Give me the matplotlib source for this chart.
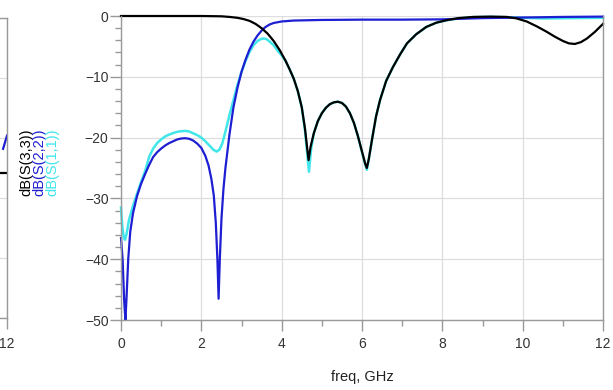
import numpy as np
import matplotlib.pyplot as plt
from matplotlib.ticker import MultipleLocator

plt.rcParams['font.family'] = ['Liberation Sans', 'DejaVu Sans']

# ---- data (freq in GHz, level in dB) ----
s33_f = [0, 1.0, 2.0, 2.5, 2.7, 2.9, 3.05, 3.2, 3.35, 3.5, 3.65, 3.8, 3.95, 4.1, 4.2,
         4.3, 4.4, 4.5, 4.58, 4.64, 4.67, 4.72, 4.8, 4.9, 5.0, 5.1, 5.2, 5.3, 5.4, 5.5,
         5.6, 5.7, 5.8, 5.9, 6.0, 6.08, 6.12, 6.17, 6.25, 6.35, 6.45, 6.6, 6.77, 6.95,
         7.12, 7.35, 7.6, 7.85, 8.1, 8.4, 8.77, 9.2, 9.6, 9.85, 10.1, 10.35, 10.6, 10.8,
         11.0, 11.15, 11.3, 11.45, 11.6, 11.8, 12.0]
s33_db = [0, 0, 0, -0.05, -0.15, -0.3, -0.5, -0.8, -1.3, -2.0, -2.9, -4.1, -5.6, -7.4, -8.8,
          -10.3, -12.3, -15, -18.5, -22, -23.7, -21.5, -19.3, -17.3, -16, -15.1, -14.5,
          -14.2, -14.1, -14.3, -14.9, -16, -17.6, -19.8, -22.3, -24.3, -25, -23.5, -20.3,
          -16.5, -13.8, -10.7, -8.4, -6.3, -4.5, -3.0, -1.8, -1.1, -0.7, -0.35, -0.15,
          -0.1, -0.15, -0.4, -0.9, -1.7, -2.6, -3.4, -4.1, -4.5, -4.6, -4.3, -3.7, -2.6, -1.3]

s22_f = [0, 0.04, 0.08, 0.11, 0.14, 0.18, 0.23, 0.3, 0.4, 0.5, 0.6, 0.7, 0.8, 0.9, 1.0,
         1.1, 1.2, 1.3, 1.4, 1.5, 1.6, 1.7, 1.8, 1.9, 2.0, 2.1, 2.18, 2.25, 2.31, 2.36,
         2.4, 2.43, 2.46, 2.5, 2.55, 2.6, 2.7, 2.8, 2.9, 3.0, 3.1, 3.2, 3.3, 3.4, 3.5,
         3.6, 3.7, 3.8, 4.0, 4.3, 5.0, 6.0, 7.0, 8.0, 9.0, 10.0, 11.0, 12.0]
s22_db = [-36.5, -40, -47, -50, -46, -40, -35.5, -32.4, -29.6, -27.6, -26, -24.5, -23.2,
          -22.4, -21.8, -21.3, -20.9, -20.6, -20.3, -20.15, -20.1, -20.2, -20.5, -21,
          -21.7, -23, -24.6, -26.8, -29.5, -34, -40, -46.5, -40, -33.5, -28.5, -25,
          -19.5, -15, -11.8, -9.2, -7.2, -5.5, -4.2, -3.2, -2.4, -1.8, -1.4, -1.15, -0.9,
          -0.75, -0.65, -0.6, -0.6, -0.55, -0.35, -0.25, -0.15, -0.1]

s11_f = [0, 0.03, 0.07, 0.1, 0.14, 0.2, 0.3, 0.4, 0.5, 0.6, 0.7, 0.8, 0.9, 1.0, 1.1,
         1.2, 1.3, 1.4, 1.5, 1.6, 1.7, 1.8, 1.9, 2.0, 2.1, 2.2, 2.3, 2.38, 2.45, 2.52,
         2.6, 2.7, 2.8, 2.9, 3.0, 3.1, 3.2, 3.3, 3.4, 3.5, 3.55, 3.62, 3.7, 3.8, 3.9,
         4.0, 4.1, 4.2, 4.3, 4.4, 4.5, 4.58, 4.64, 4.68, 4.73, 4.8, 4.9, 5.0, 5.1, 5.2,
         5.3, 5.4, 5.5, 5.6, 5.7, 5.8, 5.9, 6.0, 6.08, 6.12, 6.17, 6.25, 6.35, 6.45, 6.6,
         6.77, 6.95, 7.12, 7.35, 7.6, 7.85, 8.1, 8.4, 8.77, 9.2, 9.6, 10.5, 12.0]
s11_db = [-31.5, -34.5, -36.5, -36.8, -35.8, -33.5, -31.2, -29.2, -27.3, -25.5, -23.2,
          -21.8, -20.9, -20.3, -19.8, -19.5, -19.25, -19.05, -18.95, -18.9, -19.0, -19.3,
          -19.6, -20.0, -20.6, -21.3, -22.0, -22.3, -22.0, -21.0, -19.0, -16.3, -13.8,
          -11.3, -9.2, -7.4, -5.9, -4.8, -4.1, -3.75, -3.7, -3.8, -4.2, -4.8, -5.7, -6.5,
          -7.4, -8.8, -10.3, -12.3, -15, -18.8, -23, -25.6, -22, -19.3, -17.3, -16, -15.1,
          -14.5, -14.2, -14.1, -14.3, -14.9, -16, -17.6, -19.8, -22.4, -24.4, -25.3, -23.5,
          -20.3, -16.5, -13.8, -10.7, -8.4, -6.3, -4.5, -3.0, -1.8, -1.1, -0.7, -0.4,
          -0.2, -0.15, -0.2, -0.4, -0.3]

# right edge of the neighbouring plot that is cut off on the left
left_blk_f = [11.5, 12.0]
left_blk_db = [-25.8, -25.8]
left_blu_f = [11.85, 12.0]
left_blu_db = [-21.8, -19.6]

legend_labels = ['dB(S(3,3))', 'dB(S(2,2))', 'dB(S(1,1))']

c_blk = '#000000'
c_blu = '#1e1ed2'
c_cya = '#40e6ea'
grid_c = '#dddddd'
spine_c = '#999999'

fig = plt.figure(figsize=(6.13, 3.9), dpi=100)


def style(ax):
    ax.set_xlim(0, 12)
    ax.set_ylim(-50, 0)
    ax.xaxis.set_major_locator(MultipleLocator(2))
    ax.xaxis.set_minor_locator(MultipleLocator(1))
    ax.yaxis.set_major_locator(MultipleLocator(10))
    ax.yaxis.set_minor_locator(MultipleLocator(2))
    ax.grid(True, which='major', color=grid_c, lw=0.9)
    ax.set_axisbelow(True)
    for s in ax.spines.values():
        s.set_color(spine_c)
        s.set_linewidth(1.0)
    ax.tick_params(which='major', direction='out', length=8, width=1, color=spine_c,
                   labelsize=10, labelcolor='#333333', pad=1)
    ax.tick_params(which='minor', direction='out', length=4.5, width=1, color=spine_c)


# cut-off plot on the left, only its right edge shows
axl = fig.add_axes([-0.5, 1 - 318 / 390, 0.5 + 7 / 613, (318 - 18) / 390])
style(axl)
axl.plot(left_blk_f, left_blk_db, color=c_blk, lw=1.6)
axl.plot(left_blu_f, left_blu_db, color=c_blu, lw=1.6)
axl.set_xticks([12])
axl.xaxis.set_minor_locator(MultipleLocator(12))
axl.tick_params(axis='x', pad=6)
axl.tick_params(axis='y', which='both', length=0, labelleft=False)

# main plot
ax = fig.add_axes([121 / 613, 1 - 320 / 390, (603 - 121) / 613, (320 - 16) / 390])
style(ax)
ax.spines['top'].set_visible(False)
ax.plot(s11_f, s11_db, color=c_cya, lw=1.8, clip_on=False)
ax.plot(s22_f, s22_db, color=c_blu, lw=1.6, clip_on=False)
ax.plot(s33_f, s33_db, color=c_blk, lw=1.6, clip_on=False)
ax.tick_params(axis='x', which='major', pad=4)
ax.set_xlabel('freq, GHz', fontsize=10.5, color='#222222', labelpad=14)

# rotated legend labels
for x, lab, c in zip([26, 39, 52], legend_labels, [c_blk, c_blu, c_cya]):
    fig.text(x / 613, 1 - 162 / 390, lab, rotation=90, color=c, fontsize=10.5,
             ha='center', va='center')

fig.savefig('out.png', dpi=100)
